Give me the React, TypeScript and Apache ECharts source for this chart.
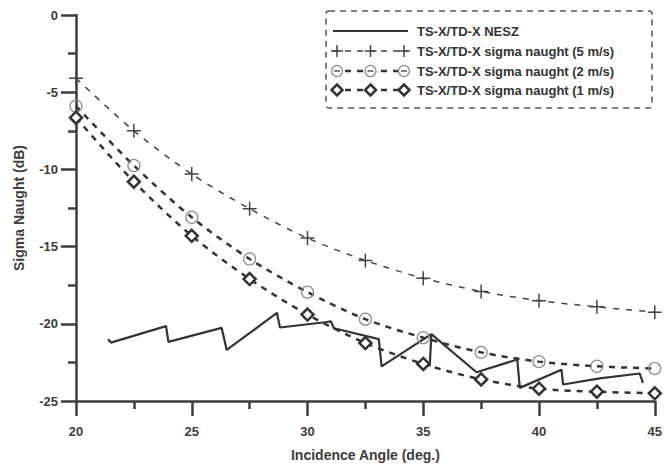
import React, { useEffect, useRef } from "react";
import * as echarts from "echarts";

// ---- data ----
const angles = [20, 22.5, 25, 27.5, 30, 32.5, 35, 37.5, 40, 42.5, 45];
const sigma5 = [-4.1, -7.5, -10.3, -12.55, -14.45, -15.9, -17.05, -17.9, -18.5, -18.9, -19.25];
const sigma2 = [-5.9, -9.75, -13.1, -15.8, -17.95, -19.7, -20.9, -21.85, -22.45, -22.75, -22.9];
const sigma1 = [-6.65, -10.8, -14.3, -17.1, -19.4, -21.25, -22.6, -23.6, -24.2, -24.4, -24.5];

const neszDeg = [21.39, 21.51, 23.89, 23.99, 26.29, 26.51, 28.68, 28.81, 30.75, 31.01, 31.14, 33.08, 33.2, 35.35, 35.28, 35.3, 35.35, 37.3, 39.06, 39.17, 40.97, 41.04, 42.62, 44.35, 44.49];
const neszDb: (number | null)[] = [-21.0, -21.22, -20.15, -21.17, -20.26, -21.69, -19.29, -20.24, -19.9, -19.84, -20.29, -20.99, -22.76, -20.67, -22.76, null, -20.67, -23.14, -22.31, -24.15, -22.97, -23.93, -23.53, -23.22, -23.83];

const seriesNames = [
  "TS-X/TD-X NESZ",
  "TS-X/TD-X sigma naught (5 m/s)",
  "TS-X/TD-X sigma naught (2 m/s)",
  "TS-X/TD-X sigma naught (1 m/s)",
];

const xTitle = "Incidence Angle (deg.)";
const yTitle = "Sigma Naught (dB)";

const FONT = '"Liberation Sans", Arial, sans-serif';
const DARK = "#333333";
const AXIS = "#3c3c3c";
const CIRCLE = "#8a8a8a";

const PLUS = "path://M0,6 L12,6 M6,0 L6,12";

function legendGraphics() {
  const x0 = 333;
  const x1 = 408;
  const rows = [31, 51, 71, 90];
  const sx = [337, 370.5, 404];
  const els: any[] = [];
  els.push({
    type: "rect",
    shape: { x: 326, y: 11, width: 326, height: 97, r: 3 },
    style: { fill: "#fff", stroke: "#555", lineWidth: 1.5, lineDash: [6, 5] },
    z: 100,
  });
  // row 0 solid
  els.push({ type: "line", shape: { x1: x0, y1: rows[0], x2: x1, y2: rows[0] }, style: { stroke: DARK, lineWidth: 2 }, z: 101 });
  // row 1 plus
  els.push({ type: "line", shape: { x1: x0, y1: rows[1], x2: x1, y2: rows[1] }, style: { stroke: "#444", lineWidth: 1.5, lineDash: [6, 6] }, z: 101 });
  sx.forEach((x) => {
    els.push({ type: "line", shape: { x1: x - 6, y1: rows[1], x2: x + 6, y2: rows[1] }, style: { stroke: "#444", lineWidth: 1.5 }, z: 102 });
    els.push({ type: "line", shape: { x1: x, y1: rows[1] - 6, x2: x, y2: rows[1] + 6 }, style: { stroke: "#444", lineWidth: 1.5 }, z: 102 });
  });
  // row 2 circles
  els.push({ type: "line", shape: { x1: x0, y1: rows[2], x2: x1, y2: rows[2] }, style: { stroke: DARK, lineWidth: 2.5, lineDash: [6, 6] }, z: 101 });
  sx.forEach((x) => {
    els.push({ type: "circle", shape: { cx: x, cy: rows[2], r: 5.5 }, style: { fill: "#fff", stroke: CIRCLE, lineWidth: 1.2 }, z: 102 });
    els.push({ type: "line", shape: { x1: x - 3, y1: rows[2], x2: x + 3, y2: rows[2] }, style: { stroke: "#555", lineWidth: 1.5 }, z: 103 });
  });
  // row 3 diamonds
  els.push({ type: "line", shape: { x1: x0, y1: rows[3], x2: x1, y2: rows[3] }, style: { stroke: DARK, lineWidth: 2.5, lineDash: [6, 6] }, z: 101 });
  sx.forEach((x) => {
    els.push({
      type: "polygon",
      shape: { points: [[x, rows[3] - 5.5], [x + 5.5, rows[3]], [x, rows[3] + 5.5], [x - 5.5, rows[3]]] },
      style: { fill: "#fff", stroke: DARK, lineWidth: 2.5 },
      z: 102,
    });
  });
  seriesNames.forEach((name, i) => {
    els.push({
      type: "text",
      x: 417,
      y: rows[i],
      style: { text: name, fill: DARK, font: `bold 13px ${FONT}`, verticalAlign: "middle", align: "left" },
      z: 102,
    });
  });
  return els;
}

export default function App() {
  const ref = useRef<HTMLDivElement>(null);
  useEffect(() => {
    if (!ref.current) return;
    const chart = echarts.init(ref.current, undefined, { renderer: "svg" });
    const pair = (vals: (number | null)[], xs: number[]) =>
      xs.map((x, i) => [x, vals[i] === null ? "-" : vals[i]]);
    chart.setOption({
      animation: false,
      backgroundColor: "#fff",
      grid: { left: 76, right: 10, top: 15, bottom: 62, containLabel: false },
      xAxis: {
        type: "value",
        min: 20,
        max: 45,
        interval: 5,
        name: xTitle,
        nameLocation: "middle",
        nameGap: 47,
        nameTextStyle: { color: AXIS, fontFamily: FONT, fontWeight: "bold", fontSize: 14 },
        axisLine: { show: true, onZero: false, lineStyle: { color: AXIS, width: 2.5 } },
        axisTick: { show: true, inside: false, length: 15, lineStyle: { color: AXIS, width: 2.5 } },
        minorTick: { show: true, splitNumber: 2, length: 8, lineStyle: { color: AXIS, width: 2.5 } },
        axisLabel: { color: AXIS, fontFamily: FONT, fontWeight: "bold", fontSize: 13, margin: 24 },
        splitLine: { show: false },
      },
      yAxis: {
        type: "value",
        min: -25,
        max: 0,
        interval: 5,
        name: yTitle,
        nameLocation: "middle",
        nameGap: 50,
        nameTextStyle: { color: AXIS, fontFamily: FONT, fontWeight: "bold", fontSize: 14 },
        axisLine: { show: true, onZero: false, lineStyle: { color: AXIS, width: 2.5 } },
        axisTick: { show: true, inside: false, length: 15, lineStyle: { color: AXIS, width: 2.5 } },
        minorTick: { show: true, splitNumber: 2, length: 8, lineStyle: { color: AXIS, width: 2.5 } },
        axisLabel: { color: AXIS, fontFamily: FONT, fontWeight: "bold", fontSize: 13, margin: 18 },
        splitLine: { show: false },
      },
      series: [
        {
          name: seriesNames[0],
          type: "line",
          data: pair(neszDb, neszDeg),
          showSymbol: false,
          symbol: "none",
          connectNulls: false,
          lineStyle: { color: DARK, width: 2.2 },
          z: 3,
        },
        {
          name: seriesNames[1],
          type: "line",
          data: pair(sigma5, angles),
          smooth: 0.3,
          symbol: PLUS,
          symbolSize: 14,
          itemStyle: { color: "#444", borderColor: "#444", borderWidth: 1.5 },
          lineStyle: { color: "#444", width: 1.5, type: [6, 7] },
          z: 4,
        },
        {
          name: seriesNames[2],
          type: "line",
          data: pair(sigma2, angles),
          smooth: 0.3,
          symbol: "circle",
          symbolSize: 12,
          itemStyle: { color: "rgba(255,255,255,0)", borderColor: CIRCLE, borderWidth: 1.2 },
          lineStyle: { color: DARK, width: 2.5, type: [6, 6] },
          z: 4,
        },
        {
          name: seriesNames[3],
          type: "line",
          data: pair(sigma1, angles),
          smooth: 0.3,
          symbol: "diamond",
          symbolSize: 12,
          itemStyle: { color: "#fff", borderColor: DARK, borderWidth: 2.5 },
          lineStyle: { color: DARK, width: 2.5, type: [6, 6] },
          z: 5,
        },
      ],
      graphic: legendGraphics(),
    });
    return () => chart.dispose();
  }, []);
  return (
    <div
      ref={ref}
      style={{ position: "absolute", left: 0, top: 0, width: 665, height: 467 }}
    />
  );
}
